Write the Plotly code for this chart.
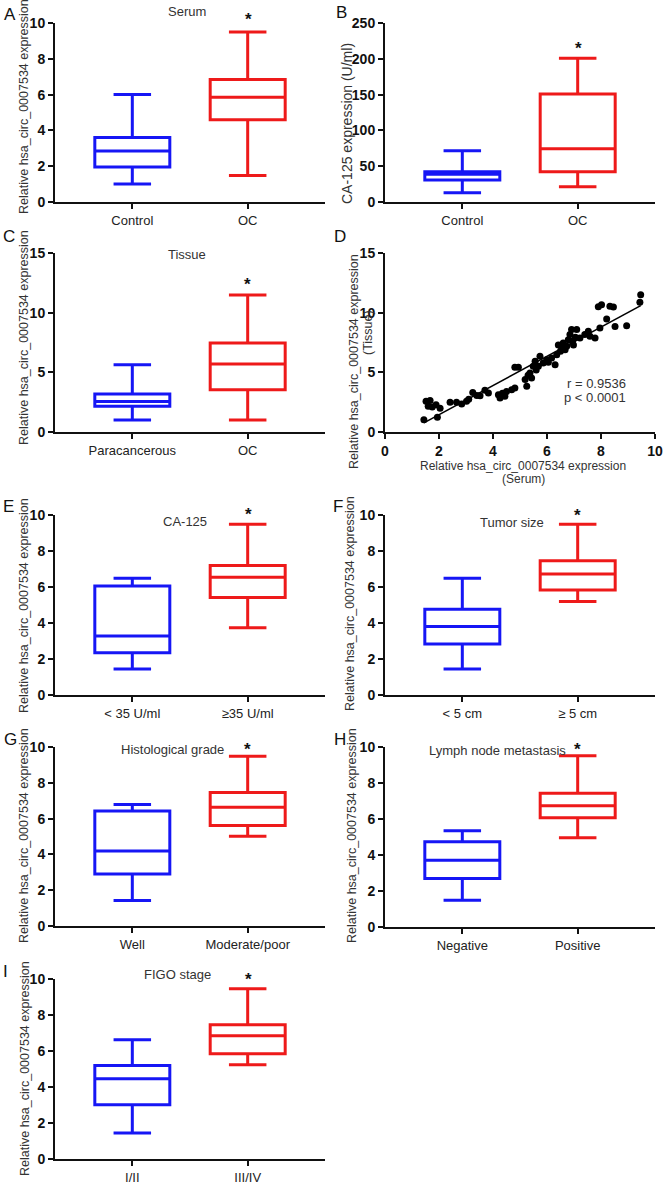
import numpy as np
import plotly.graph_objects as go

W, H = 666, 1184
BLUE = "#1616f5"
RED = "#ee1a1a"

# ---------------- data ----------------
panel_letters = ["A", "B", "C", "D", "E", "F", "G", "H", "I"]

# box panels: categories and five-number summaries [lower, q1, median, q3, upper]
cats_A = ["Control", "OC"]
box_A_ctrl = [1.0, 1.95, 2.85, 3.6, 6.0]
box_A_case = [1.48, 4.6, 5.85, 6.84, 9.5]

cats_B = ["Control", "OC"]
box_B_ctrl = [13, 30.7, 38.7, 42.3, 71.6]
box_B_case = [21.4, 42.4, 74.5, 150.8, 200.6]

cats_C = ["Paracancerous", "OC"]
box_C_ctrl = [1.0, 2.15, 2.55, 3.18, 5.64]
box_C_case = [1.0, 3.55, 5.7, 7.46, 11.48]

cats_E = ["< 35 U/ml", "≥35 U/ml"]
box_E_ctrl = [1.44, 2.35, 3.28, 6.06, 6.48]
box_E_case = [3.74, 5.41, 6.54, 7.19, 9.48]

cats_F = ["< 5 cm", "≥ 5 cm"]
box_F_ctrl = [1.44, 2.83, 3.8, 4.76, 6.48]
box_F_case = [5.19, 5.83, 6.72, 7.46, 9.48]

cats_G = ["Well", "Moderate/poor"]
box_G_ctrl = [1.43, 2.9, 4.19, 6.42, 6.79]
box_G_case = [5.02, 5.62, 6.64, 7.46, 9.49]

cats_Hn = ["Negative", "Positive"]
box_H_ctrl = [1.48, 2.69, 3.71, 4.73, 5.35]
box_H_case = [4.96, 6.07, 6.73, 7.43, 9.51]

cats_I = ["I/II", "III/IV"]
box_I_ctrl = [1.44, 3.02, 4.46, 5.19, 6.63]
box_I_case = [5.24, 5.85, 6.85, 7.46, 9.46]

# scatter panel D: serum (x) vs tissue (y)
serum_x = [1.44, 1.52, 1.67, 1.60, 1.89, 2.04, 1.94, 2.41, 2.65, 2.84, 3.02, 3.25,
           3.52, 3.70, 3.83, 4.20, 4.26, 4.44, 4.50, 4.69, 4.81, 4.81, 4.94, 5.19,
           5.25, 5.37, 5.43, 5.49, 5.56, 5.68, 5.74, 5.86, 5.99, 6.17, 6.30, 6.36,
           6.42, 6.50, 6.60, 6.67, 6.73, 6.79, 6.85, 6.91, 6.98, 7.10, 7.22, 7.40,
           7.53, 7.59, 7.78, 7.96, 7.90, 8.02, 8.21, 8.33, 8.46, 8.52, 8.95, 9.44,
           9.47, 3.10, 3.40, 4.35, 5.30, 5.60, 6.05, 6.55, 6.95, 7.05, 1.75]
tissue_y = [1.03, 2.57, 2.63, 2.15, 2.29, 2.00, 1.23, 2.49, 2.49, 2.35, 2.57, 3.30,
            3.04, 3.50, 3.27, 3.13, 2.85, 3.00, 3.40, 3.55, 3.69, 5.42, 5.42, 4.39,
            3.83, 4.94, 4.53, 5.50, 5.92, 5.50, 6.34, 5.78, 6.06, 6.20, 5.64, 6.48,
            7.30, 6.76, 7.46, 6.90, 7.18, 7.74, 8.16, 8.58, 7.30, 8.58, 7.88, 8.16,
            8.44, 8.02, 7.88, 8.72, 10.50, 10.67, 9.47, 10.53, 10.47, 8.85, 8.91, 10.87,
            11.50, 2.75, 3.05, 3.25, 4.75, 5.20, 5.85, 7.00, 7.60, 7.95, 2.10]
stat_text = ["r = 0.9536", "p < 0.0001"]

ytitle = "Relative hsa_circ_0007534 expression"

# ---------------- layout helpers ----------------
def px(x):
    return x / W

def py(y):
    return 1 - y / H

# panel plot areas in pixels: (x0, x1, ytop, ybottom)
areas = {
    "A": (55, 325, 23, 202),
    "B": (385, 655, 23, 202),
    "C": (55, 325, 253, 432),
    "D": (385, 655, 253, 432),
    "E": (55, 325, 515, 695),
    "F": (385, 655, 515, 695),
    "G": (55, 325, 747, 926),
    "H": (385, 655, 747, 927),
    "I": (55, 325, 979, 1159),
}

fig = go.Figure()
layout = dict(template="none", width=W, height=H, margin=dict(l=0, r=0, t=0, b=0, pad=0),
              autosize=False,
              paper_bgcolor="white", plot_bgcolor="white", showlegend=False,
              font=dict(family="Liberation Sans, Arial", color="#222"))
annotations = []

tickfont_b = dict(family="Liberation Sans, Arial", size=14, color="#111")

def axis_common():
    return dict(showline=True, linewidth=2, linecolor="#111", ticks="outside",
                ticklen=5, tickwidth=2, tickcolor="#111", showgrid=False,
                zeroline=False, fixedrange=True, automargin=False)

def bold_ticks(vals):
    return ["<b>%g</b>" % v for v in vals]

panels = [
    ("A", cats_A, box_A_ctrl, box_A_case, [0, 10], 2),
    ("B", cats_B, box_B_ctrl, box_B_case, [0, 250], 50),
    ("C", cats_C, box_C_ctrl, box_C_case, [0, 15], 5),
    ("E", cats_E, box_E_ctrl, box_E_case, [0, 10], 2),
    ("F", cats_F, box_F_ctrl, box_F_case, [0, 10], 2),
    ("G", cats_G, box_G_ctrl, box_G_case, [0, 10], 2),
    ("H", cats_Hn, box_H_ctrl, box_H_case, [0, 10], 2),
    ("I", cats_I, box_I_ctrl, box_I_case, [0, 10], 2),
]
order = ["A", "B", "C", "D", "E", "F", "G", "H", "I"]

for key in order:
    idx = order.index(key) + 1
    sfx = "" if idx == 1 else str(idx)
    x0, x1, yt, yb = areas[key]
    xa = axis_common()
    ya = axis_common()
    xa.update(domain=[px(x0), px(x1)], anchor="y" + sfx)
    ya.update(domain=[py(yb), py(yt)], anchor="x" + sfx)
    if key == "D":
        xv = [0, 2, 4, 6, 8, 10]
        yv = [0, 5, 10, 15]
        xa.update(range=[0, 10], tickvals=xv, ticktext=bold_ticks(xv), tickfont=tickfont_b)
        ya.update(range=[0, 15], tickvals=yv, ticktext=bold_ticks(yv), tickfont=tickfont_b)
        fig.add_trace(go.Scatter(x=serum_x, y=tissue_y, mode="markers",
                                 marker=dict(color="black", size=7),
                                 xaxis="x" + sfx, yaxis="y" + sfx))
        k, b = np.polyfit(serum_x, tissue_y, 1)
        lx = np.array([min(serum_x), max(serum_x)])
        fig.add_trace(go.Scatter(x=lx, y=k * lx + b, mode="lines",
                                 line=dict(color="black", width=1.6),
                                 xaxis="x" + sfx, yaxis="y" + sfx))
    else:
        p = [q for q in panels if q[0] == key][0]
        _, cats, ctrl, case, yr, dt = p
        yv = list(np.arange(yr[0], yr[1] + dt / 2, dt))
        xa.update(range=[-0.67, 1.67], tickvals=[0, 1], ticktext=cats,
                  tickfont=dict(family="Liberation Sans, Arial", size=13, color="#222"))
        ya.update(range=yr, tickvals=yv, ticktext=bold_ticks(yv), tickfont=tickfont_b)
        for xi, vals, col in [(0, ctrl, BLUE), (1, case, RED)]:
            fig.add_trace(go.Box(x=[xi], lowerfence=[vals[0]], q1=[vals[1]],
                                 median=[vals[2]], q3=[vals[3]], upperfence=[vals[4]],
                                 width=0.65, whiskerwidth=0.5, boxpoints=False,
                                 line=dict(color=col, width=3), fillcolor="rgba(255,255,255,0)",
                                 xaxis="x" + sfx, yaxis="y" + sfx))
    layout["xaxis" + sfx] = xa
    layout["yaxis" + sfx] = ya

def ann(text, x, y, size=12.5, color="#333", angle=0, xanchor="center"):
    annotations.append(dict(text=text, x=px(x), y=py(y), xref="paper", yref="paper",
                            showarrow=False, textangle=angle, xanchor=xanchor, yanchor="middle",
                            font=dict(family="Liberation Sans, Arial", size=size, color=color)))

# panel letters (left-anchored)
letter_pos = {"A": (2, 14), "B": (334, 13), "C": (1, 236), "D": (332, 236), "E": (1, 506),
              "F": (331, 506), "G": (2, 739), "H": (332, 739), "I": (1, 971)}
for L in panel_letters:
    ann(L, *letter_pos[L], size=17, color="#111", xanchor="left")

# panel titles
ann("Serum", 187, 11, size=13)
ann("Tissue", 187, 255, size=13)
ann("CA-125", 185, 521, size=13)
ann("Tumor size", 512, 522, size=13)
ann("Histological grade", 173, 749, size=13)
ann("Lymph node metastasis", 497, 750, size=13)
ann("FIGO stage", 177, 974, size=13)

# asterisks
for (x, y) in [(248, 20), (578, 48), (247, 285), (248, 514), (577, 515), (247, 749), (577, 749), (248, 979)]:
    ann("<b>*</b>", x, y, size=17, color="#111")

# y-axis titles
ann(ytitle, 24, 107, angle=-90)
ann("CA-125 expression (U/ml)", 347, 124, size=14, angle=-90)
ann(ytitle, 24, 338, angle=-90)
ann(ytitle, 354, 362, angle=-90)
ann("(Tissue)", 368, 333, angle=-90)
ann(ytitle, 24, 606, angle=-90)
ann(ytitle, 350, 604, angle=-90)
ann(ytitle, 24, 836, angle=-90)
ann(ytitle, 352, 836, angle=-90)
ann(ytitle, 25, 1069, angle=-90)

# D x-axis title
ann(ytitle, 523, 466, size=12)
ann("(Serum)", 523, 479, size=12)

# stats in D
ann(stat_text[0], 628, 383, size=13, xanchor="right")
ann(stat_text[1], 628, 397, size=13, xanchor="right")

layout["annotations"] = annotations
fig.update_layout(**layout)
fig.write_html("out.html",
               config={"displayModeBar": False, "staticPlot": True},
               post_script="document.body.style.margin='0';document.body.style.overflow='hidden';")
